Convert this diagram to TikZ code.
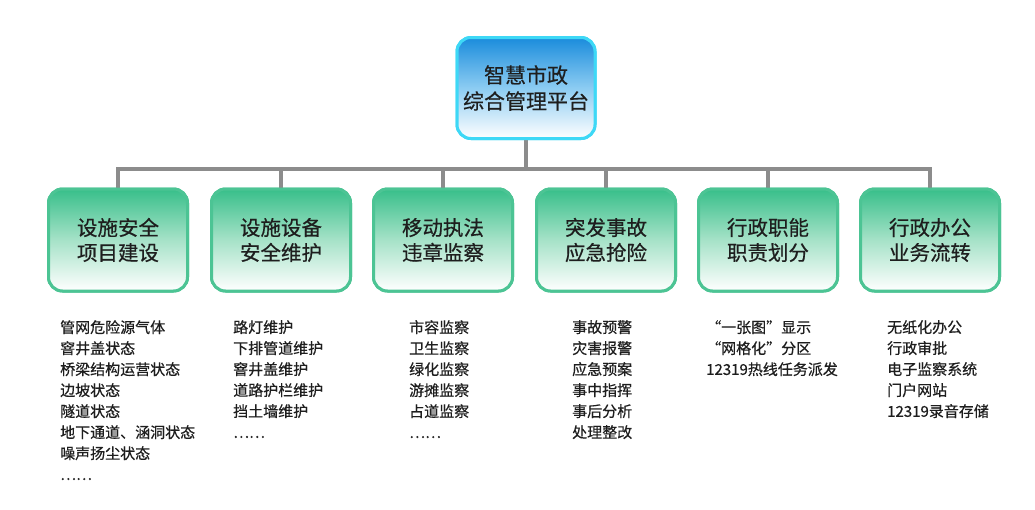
\documentclass[tikz,border=0pt]{standalone}
\usepackage{fontspec}
\setmainfont[FakeBold=0.5]{Noto Sans CJK SC}
\begin{document}
\begin{tikzpicture}[x=1pt,y=-1pt,
  topbox/.style={draw=topborder, line width=3pt, rounded corners=14pt, top color=topfill, bottom color=white, middle color=topmid, minimum width=138pt, minimum height=101pt, align=center, font=\fontsize{21}{26}\selectfont, text=txt, inner sep=0pt},
  catbox/.style={draw=catborder, line width=3pt, rounded corners=14pt, top color=catfill, bottom color=white, middle color=catmid, minimum width=139pt, minimum height=102pt, align=center, font=\fontsize{20.5}{25}\selectfont, text=txt, inner sep=0pt},
  items/.style={anchor=north west, align=left, font=\fontsize{15}{21}\selectfont, text=txt, inner sep=0pt},
  link/.style={draw=linkgray, line width=4pt}]
\definecolor{topborder}{HTML}{3ED8F6}
\definecolor{topfill}{HTML}{1A8CDC}
\definecolor{topmid}{HTML}{8CCCF2}
\definecolor{catborder}{HTML}{4CC494}
\definecolor{catfill}{HTML}{38BF8A}
\definecolor{catmid}{HTML}{A6E2C8}
\definecolor{linkgray}{HTML}{8C8C8C}
\definecolor{txt}{HTML}{1E1E1E}
\useasboundingbox (0,0) rectangle (1035,509);
\fill[white] (0,0) rectangle (1035,509);
% top
\node[topbox] (root) at (526,88) {智慧市政\\综合管理平台};
\coordinate (hub) at (526,169);
% categories
\node[catbox] (c1) at (118,240) {设施安全\\项目建设};
\node[catbox] (c2) at (281,240) {设施设备\\安全维护};
\node[catbox] (c3) at (443,240) {移动执法\\违章监察};
\node[catbox] (c4) at (606,240) {突发事故\\应急抢险};
\node[catbox] (c5) at (768,240) {行政职能\\职责划分};
\node[catbox] (c6) at (930,240) {行政办公\\业务流转};
% connectors
\draw[link] (root.south) -- (hub);
\draw[link] (c1.north) -- (c1.north |- hub) -- (c6.north |- hub) -- (c6.north);
\foreach \n in {c2,c3,c4,c5} \draw[link] (\n.north) -- (\n.north |- hub);
% redraw boxes on top of connector ends
\node[topbox] at (root) {智慧市政\\综合管理平台};
\foreach \n/\t in {c1/{设施安全\\项目建设},c2/{设施设备\\安全维护},c3/{移动执法\\违章监察},c4/{突发事故\\应急抢险},c5/{行政职能\\职责划分},c6/{行政办公\\业务流转}}
  \node[catbox] at (\n) {\t};
% lists
\node[items] (l1) at (60,320) {管网危险源气体\\窨井盖状态\\桥梁结构运营状态\\边坡状态\\隧道状态\\地下通道、涵洞状态\\噪声扬尘状态\\……};
\node[items] (l2) at (233,320) {路灯维护\\下排管道维护\\窨井盖维护\\道路护栏维护\\挡土墙维护\\……};
\node[items] (l3) at (409,320) {市容监察\\卫生监察\\绿化监察\\游摊监察\\占道监察\\……};
\node[items] (l4) at (572,320) {事故预警\\灾害报警\\应急预案\\事中指挥\\事后分析\\处理整改};
\node[items] (l5) at (706,320) {“一张图”显示\\“网格化”分区\\12319热线任务派发};
\node[items] (l6) at (887,320) {无纸化办公\\行政审批\\电子监察系统\\门户网站\\12319录音存储};
\end{tikzpicture}
\end{document}
